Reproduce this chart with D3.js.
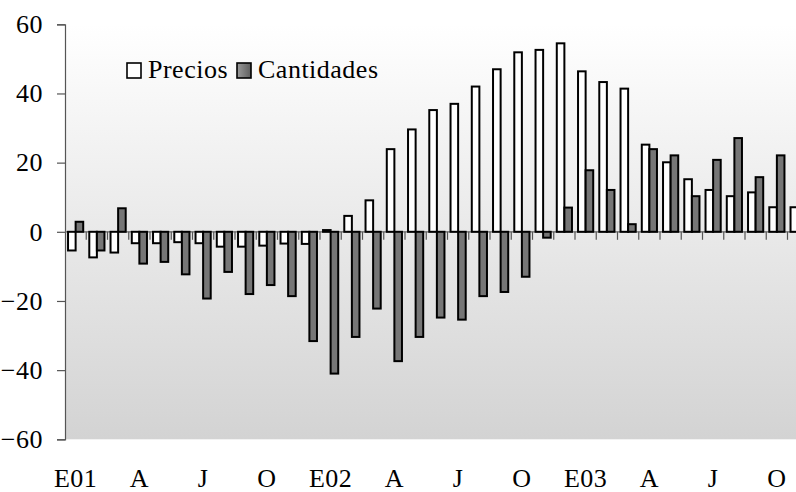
<!DOCTYPE html>
<html lang="es">
<head>
  <meta charset="UTF-8">
  <title>Precios y Cantidades</title>
  <script src="https://d3js.org/d3.v7.min.js"></script>
  <style>
    body { margin: 0; background: #fff; }
    svg { display: block; font-family: "Liberation Serif", "Times New Roman", serif; }
    .tick-label { font-size: 26px; fill: #000; letter-spacing: 0.5px; }
  </style>
</head>
<body>
  <svg id="chart" width="796" height="492"></svg>
  <script>
    // Months Jan 2001 .. Nov 2003 (the last one is cut at the right edge)
    const months = d3.range(35).map(i => "m" + i);
    const monthLabels = ["E01", "", "", "A", "", "", "J", "", "", "O", "", "",
                         "E02", "", "", "A", "", "", "J", "", "", "O", "", "",
                         "E03", "", "", "A", "", "", "J", "", "", "O", ""];
    const precios = [-5.4, -7.4, -6, -3.3, -3.3, -3, -3.3, -4.3, -4.3, -4, -3.4, -3.5,
                     0.5, 4.6, 9.1, 23.9, 29.6, 35.2, 37, 42, 47, 51.9, 52.6, 54.5,
                     46.4, 43.3, 41.4, 25.2, 20.1, 15.2, 12.1, 10.3, 11.4, 7.1, 7.1];
    const cantidades = [2.9, -5.4, 6.8, -9.2, -8.7, -12.3, -19.3, -11.6, -18, -15.4, -18.6, -31.6,
                        -41, -30.4, -22.2, -37.4, -30.4, -24.8, -25.4, -18.6, -17.4, -13, -1.7, 7,
                        17.8, 12.1, 2.2, 23.9, 22.1, 10.3, 20.8, 27.1, 15.8, 22.1, 25.4];
    const series = ["Precios", "Cantidades"];
    const yTicks = [-60, -40, -20, 0, 20, 40, 60];

    const svg = d3.select("#chart");
    const plotLeft = 65, plotTop = 24.3, plotBottom = 439.3, step = 21.25;

    const x = d3.scaleBand().domain(months).range([plotLeft, plotLeft + step * months.length]);
    const x1 = d3.scaleBand().domain(series).range([0, x.bandwidth()]).paddingOuter(0.4);
    const y = d3.scaleLinear().domain([-60, 60]).range([plotBottom, plotTop]);

    const defs = svg.append("defs");
    const bg = defs.append("linearGradient").attr("id", "bg")
      .attr("x1", 0).attr("y1", 0).attr("x2", 0).attr("y2", 1);
    bg.append("stop").attr("offset", "0%").attr("stop-color", "#ffffff");
    bg.append("stop").attr("offset", "100%").attr("stop-color", "#d3d3d3");
    const lg = defs.append("linearGradient").attr("id", "lg")
      .attr("x1", 0).attr("y1", 0).attr("x2", 1).attr("y2", 0);
    lg.append("stop").attr("offset", "0%").attr("stop-color", "#9a9a9a");
    lg.append("stop").attr("offset", "100%").attr("stop-color", "#5e5e5e");

    // plot area background
    svg.append("rect")
      .attr("x", plotLeft).attr("y", y(60))
      .attr("width", x.range()[1] - plotLeft).attr("height", y(-60) - y(60))
      .attr("fill", "url(#bg)");

    // y axis
    const yAxis = svg.append("g")
      .attr("transform", `translate(${plotLeft},0)`)
      .call(d3.axisLeft(y).tickValues(yTicks).tickSize(8).tickPadding(14).tickFormat(d3.format("d")));
    yAxis.select(".domain").attr("stroke", "#555").attr("stroke-width", 1.2);
    yAxis.selectAll(".tick line").attr("stroke", "#555").attr("stroke-width", 1.2);
    yAxis.selectAll("text").attr("class", "tick-label")
      .style("font-family", "Liberation Serif");

    // x axis on the zero line
    const xAxis = svg.append("g").attr("transform", `translate(0,${y(0)})`);
    xAxis.append("line")
      .attr("x1", plotLeft).attr("x2", x.range()[1])
      .attr("stroke", "#666").attr("stroke-width", 1.2);
    xAxis.selectAll("line.tk")
      .data(months.slice(1))
      .join("line").attr("class", "tk")
      .attr("x1", d => x(d)).attr("x2", d => x(d))
      .attr("y1", 0).attr("y2", 8)
      .attr("stroke", "#555").attr("stroke-width", 1.2);

    // bars
    const data = months.map((m, i) => ({ m, vals: [precios[i], cantidades[i]] }));
    const groups = svg.append("g").selectAll("g")
      .data(data)
      .join("g")
      .attr("transform", d => `translate(${x(d.m)},0)`);
    groups.selectAll("rect")
      .data(d => series.map((s, j) => ({ s, v: d.vals[j] })))
      .join("rect")
      .attr("x", d => x1(d.s))
      .attr("width", x1.bandwidth())
      .attr("y", d => y(Math.max(0, d.v)))
      .attr("height", d => Math.abs(y(d.v) - y(0)))
      .attr("fill", d => d.s === "Precios" ? "#ffffff" : "#767676")
      .attr("stroke", "#000")
      .attr("stroke-width", 2);

    // month labels
    svg.append("g").selectAll("text")
      .data(months.filter((m, i) => monthLabels[i] !== ""))
      .join("text")
      .attr("class", "tick-label")
      .attr("x", d => x(d) + x.bandwidth() / 2)
      .attr("y", 487)
      .attr("text-anchor", "middle")
      .text(d => monthLabels[months.indexOf(d)]);

    // legend
    const legend = svg.append("g");
    const legendItems = [
      { s: "Precios", x: 127, fill: "#ffffff" },
      { s: "Cantidades", x: 237, fill: "url(#lg)" }
    ];
    legendItems.forEach(it => {
      legend.append("rect")
        .attr("x", it.x).attr("y", 63).attr("width", 14).attr("height", 15)
        .attr("fill", it.fill).attr("stroke", "#000").attr("stroke-width", 1.6);
      legend.append("text")
        .attr("class", "tick-label")
        .attr("x", it.x + 21).attr("y", 78)
        .attr("letter-spacing", "-0.3px")
        .text(it.s);
    });
  </script>
</body>
</html>
